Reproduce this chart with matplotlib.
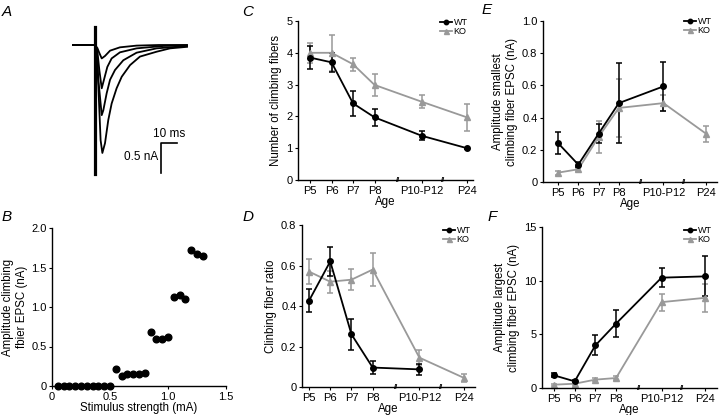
import numpy as np
import matplotlib.pyplot as plt

plt.rcParams['font.family'] = ['Liberation Sans', 'DejaVu Sans']
plt.rcParams['font.size'] = 8.3

# panel A: example EPSC traces (time in ms, current in nA)
trace_t = [
    [-13.75, 0, 1.5, 2.7, 4.2, 6.25, 9.4, 15.6, 26, 40, 57.5],
    [-13.75, 0, 1.5, 2.7, 4.2, 5.6, 7.7, 10.4, 15.6, 26, 42.7, 57.5],
    [-13.75, 0, 1.2, 2.1, 4.2, 5.2, 7.3, 9.4, 12.5, 17.7, 26, 38.5, 57.5],
    [-13.75, 0, 1.2, 2.1, 3.5, 4.6, 6.25, 8.3, 10.4, 13.5, 16.7, 21.9, 28.1, 38.5, 46.9, 57.5],
]
trace_i = [
    [0, 0, -0.05, -0.13, -0.22, -0.18, -0.093, -0.038, -0.01, 0, 0],
    [0, 0, -0.1, -0.41, -0.71, -0.57, -0.36, -0.22, -0.12, -0.055, -0.016, -0.005],
    [0, 0, -0.15, -0.57, -1.15, -1.07, -0.79, -0.57, -0.41, -0.25, -0.126, -0.055, -0.016],
    [0, 0, -0.2, -0.68, -1.56, -1.77, -1.61, -1.23, -0.96, -0.71, -0.52, -0.33, -0.19, -0.11, -0.055, -0.03],
]

# panel B: amplitude vs stimulus strength
stim = [0.05, 0.1, 0.15, 0.2, 0.25, 0.3, 0.35, 0.4, 0.45, 0.5,
        0.55, 0.6, 0.65, 0.7, 0.75, 0.8, 0.85, 0.9, 0.95, 1.0,
        1.05, 1.1, 1.15, 1.2, 1.25, 1.3]
amp = [0, 0, 0, 0, 0, 0, 0, 0, 0, 0,
       0.21, 0.13, 0.15, 0.15, 0.15, 0.16, 0.685, 0.6, 0.6, 0.625,
       1.13, 1.155, 1.1, 1.72, 1.67, 1.65]

# panels C-F: age groups
ages = ['P5', 'P6', 'P7', 'P8', 'P10-P12', 'P24']
age_x = [0, 1, 2, 3, 5.2, 7.3]
breaks = [4.1, 6.2]
nan = np.nan

cf_wt = [3.85, 3.70, 2.41, 1.97, 1.39, 1.0]
cf_wt_err = [0.36, 0.29, 0.4, 0.27, 0.14, 0.02]
cf_ko = [4.0, 4.0, 3.64, 2.99, 2.46, 1.97]
cf_ko_err = [0.31, 0.57, 0.21, 0.34, 0.21, 0.42]

ratio_wt = [0.426, 0.62, 0.26, 0.096, 0.087, nan]
ratio_wt_err = [0.057, 0.07, 0.078, 0.03, 0.028, nan]
ratio_ko = [0.57, 0.52, 0.53, 0.58, 0.145, 0.045]
ratio_ko_err = [0.06, 0.055, 0.053, 0.08, 0.038, 0.02]

small_wt = [0.242, 0.108, 0.30, 0.49, 0.594, nan]
small_wt_err = [0.07, 0.015, 0.06, 0.25, 0.153, nan]
small_ko = [0.058, 0.079, 0.28, 0.46, 0.49, 0.30]
small_ko_err = [0.012, 0.01, 0.1, 0.18, 0.05, 0.05]

large_wt = [1.18, 0.62, 3.97, 6.0, 10.28, 10.4]
large_wt_err = [0.2, 0.15, 0.93, 1.24, 0.86, 1.86]
large_ko = [0.31, 0.4, 0.78, 0.93, 8.0, 8.4]
large_ko_err = [0.1, 0.1, 0.15, 0.15, 0.78, 1.3]

GRAY = '#999999'
W, H = 720, 415
fig = plt.figure(figsize=(W / 100, H / 100), dpi=100)


def box(l, t, r, b):
    # pixel box -> figure axes
    return fig.add_axes([l / W, 1 - b / H, (r - l) / W, (b - t) / H])


def style(ax):
    for s in ['top', 'right']:
        ax.spines[s].set_visible(False)
    for s in ['left', 'bottom']:
        ax.spines[s].set_linewidth(1.0)
    ax.tick_params(length=2.5, width=0.8, pad=1.5, labelsize=8)


def age_panel(ax, wt, wt_err, ko, ko_err, xlim, ymax, yticks, yticklabels, ylabel, leg_xy):
    style(ax)
    ax.errorbar(age_x, ko, yerr=ko_err, fmt='none', ecolor=GRAY, elinewidth=1.1, capsize=2, capthick=1.1, clip_on=False)
    ax.errorbar(age_x, wt, yerr=wt_err, fmt='none', ecolor='black', elinewidth=1.1, capsize=2, capthick=1.1, clip_on=False)
    l_ko, = ax.plot(age_x, ko, '-^', color=GRAY, lw=1.3, ms=4.5, clip_on=False)
    l_wt, = ax.plot(age_x, wt, '-o', color='black', lw=1.3, ms=4, clip_on=False)
    ax.set_xlim(*xlim)
    ax.set_ylim(0, ymax)
    ax.set_xticks(age_x)
    ax.set_xticklabels(ages)
    ax.set_yticks(yticks)
    ax.set_yticklabels(yticklabels)
    ax.set_xlabel('Age', labelpad=0)
    ax.set_ylabel(ylabel, labelpad=3)
    for xb in breaks:
        ax.text(xb, 0, '//', transform=ax.get_xaxis_transform(), ha='center', va='center',
                fontsize=5.5, fontweight='bold')
    ax.legend([l_wt, l_ko], ['WT', 'KO'], loc='upper left', bbox_to_anchor=(leg_xy[0] / W, 1 - leg_xy[1] / H),
              bbox_transform=fig.transFigure, frameon=False, fontsize=6.5, borderpad=0, handlelength=1.3,
              handletextpad=0.2, labelspacing=0.0, borderaxespad=0, markerscale=0.8)


# A
axA = box(60, 20, 200, 185)
axA.axis('off')
axA.set_xlim((60 - 95) / 1.6, (200 - 95) / 1.6)
axA.set_ylim((45 - 185) / 61, (45 - 20) / 61)
for t, i in zip(trace_t, trace_i):
    axA.plot(t, i, color='black', lw=1.3)
axA.plot([0, 0], [0.295, -2.11], color='black', lw=2.3)
axA.plot([41, 41, 51], [-2.1, -1.6, -1.6], color='black', lw=1.2)
axA.text(46.3, -1.565, '10 ms', ha='center', va='bottom', fontsize=8.5)
axA.text(39.4, -1.83, '0.5 nA', ha='right', va='center', fontsize=8.5)

# B
axB = box(52, 228, 226, 386)
style(axB)
axB.plot(stim, amp, 'o', color='black', ms=4.8, clip_on=False, zorder=3)
axB.set_xlim(0, 1.5)
axB.set_ylim(0, 2.0)
axB.set_xticks([0, 0.5, 1.0, 1.5])
axB.set_xticklabels(['0', '0.5', '1.0', '1.5'])
axB.set_yticks([0, 0.5, 1.0, 1.5, 2.0])
axB.set_yticklabels(['0', '0.5', '1.0', '1.5', '2.0'])
axB.set_xlabel('Stimulus strength (mA)', labelpad=0)
axB.set_ylabel('Amplitude climbing\nfbier EPSC (nA)', labelpad=2)

# C
axC = box(298, 21, 473, 180)
age_panel(axC, cf_wt, cf_wt_err, cf_ko, cf_ko_err, (-0.56, 7.58), 5, [0, 1, 2, 3, 4, 5],
          ['0', '1', '2', '3', '4', '5'], 'Number of climbing fibers', (440, 18))

# D
axD = box(302, 225, 475, 387)
age_panel(axD, ratio_wt, ratio_wt_err, ratio_ko, ratio_ko_err, (-0.33, 7.82), 0.8, [0, 0.2, 0.4, 0.6, 0.8],
          ['0', '0.2', '0.4', '0.6', '0.8'], 'Clinbing fiber ratio', (443, 226))

# E
axE = box(543, 21, 717, 182)
age_panel(axE, small_wt, small_wt_err, small_ko, small_ko_err, (-0.74, 7.84), 1.0, [0, 0.2, 0.4, 0.6, 0.8, 1.0],
          ['0', '0.2', '0.4', '0.6', '0.8', '1.0'], 'Amplitude smallest\nclimbing fiber EPSC (nA)', (684, 17))

# F
axF = box(542, 227, 717, 388)
age_panel(axF, large_wt, large_wt_err, large_ko, large_ko_err, (-0.58, 7.88), 15, [0, 5, 10, 15],
          ['0', '5', '10', '15'], 'Amplitude largest\nclimbing fiber EPSC (nA)', (684, 226))

# panel letters
for letter, x, y in [('A', 7, 12), ('B', 7, 217), ('C', 248, 12), ('D', 248, 217), ('E', 487, 10), ('F', 492, 217)]:
    fig.text(x / W, 1 - y / H, letter, fontsize=11, style='italic', ha='center', va='center')

fig.savefig('out.png', dpi=100)
